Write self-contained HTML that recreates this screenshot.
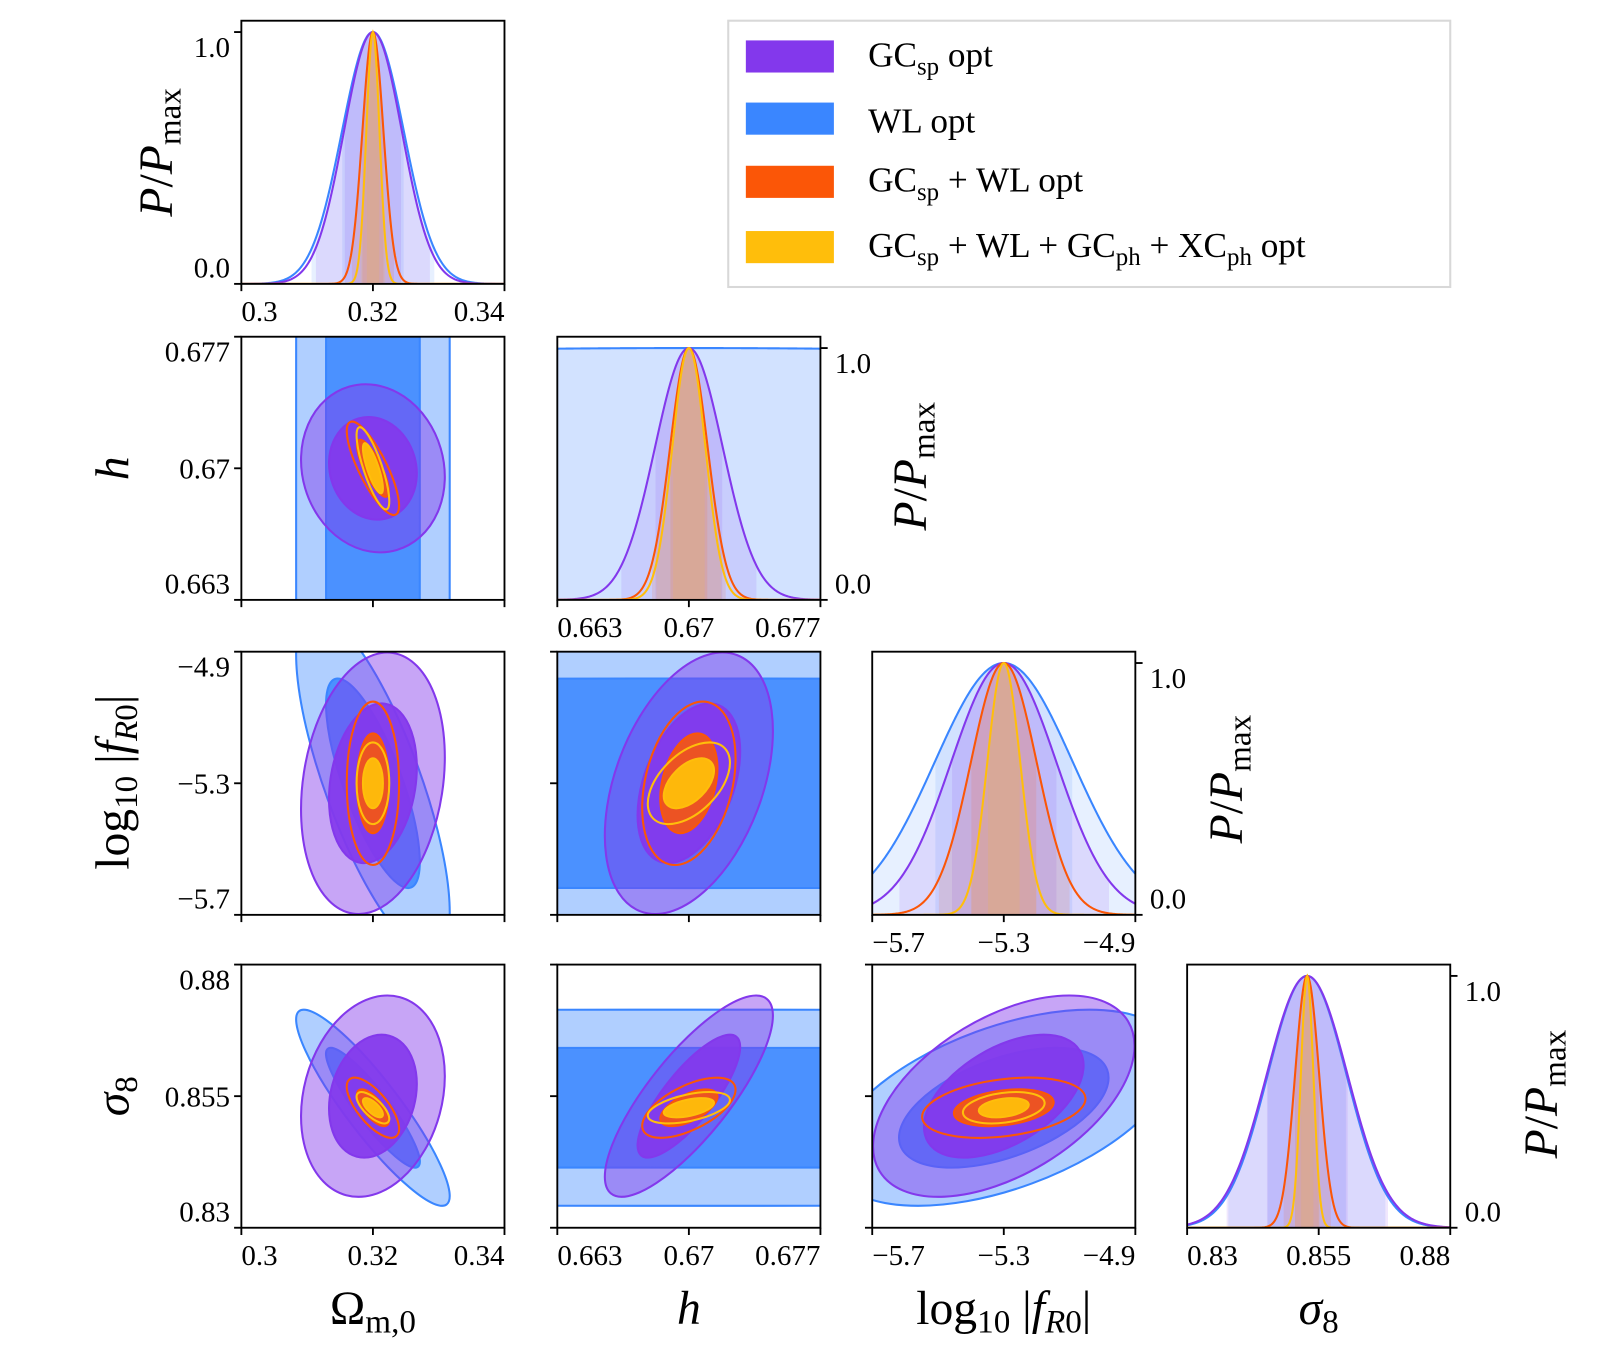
<!DOCTYPE html>
<html><head><meta charset="utf-8"><style>
html,body{margin:0;padding:0;background:#fff;overflow:hidden;width:1616px;height:1350px;}
svg{display:block;font-family:"Liberation Serif",serif;}
</style></head><body>
<svg id="fig" width="1616" height="1350" viewBox="0 0 1560 1303" preserveAspectRatio="none" xmlns="http://www.w3.org/2000/svg">
<defs id="defs"></defs>
<g id="marks"></g>
<g id="axes"></g>
<g font-size="46" fill="#000">
 <text transform="translate(150,147) rotate(-90)" text-anchor="middle" dy="0.35em"><tspan font-style="italic">P</tspan>/<tspan font-style="italic">P</tspan><tspan font-size="32" dy="8">max</tspan></text>
 <text transform="translate(108,452) rotate(-90)" text-anchor="middle" dy="0.35em" font-style="italic">h</text>
 <text transform="translate(108,755) rotate(-90)" text-anchor="middle" dy="0.35em">log<tspan font-size="32" dy="8">10</tspan><tspan dy="-8"> |</tspan><tspan font-style="italic">f</tspan><tspan font-size="32" dy="8" font-style="italic">R</tspan><tspan font-size="32">0</tspan><tspan dy="-8">|</tspan></text>
 <text transform="translate(108,1058) rotate(-90)" text-anchor="middle" dy="0.35em" font-style="italic">σ<tspan font-size="32" dy="8" font-style="normal">8</tspan></text>
 <text transform="translate(878,450) rotate(-90)" text-anchor="middle" dy="0.35em"><tspan font-style="italic">P</tspan>/<tspan font-style="italic">P</tspan><tspan font-size="32" dy="8">max</tspan></text>
 <text transform="translate(1183,752) rotate(-90)" text-anchor="middle" dy="0.35em"><tspan font-style="italic">P</tspan>/<tspan font-style="italic">P</tspan><tspan font-size="32" dy="8">max</tspan></text>
 <text transform="translate(1487,1056) rotate(-90)" text-anchor="middle" dy="0.35em"><tspan font-style="italic">P</tspan>/<tspan font-style="italic">P</tspan><tspan font-size="32" dy="8">max</tspan></text>
 <text x="360" y="1278" text-anchor="middle">Ω<tspan font-size="32" dy="8">m,0</tspan></text>
 <text x="665" y="1278" text-anchor="middle" font-style="italic">h</text>
 <text x="969" y="1278" text-anchor="middle">log<tspan font-size="32" dy="8">10</tspan><tspan dy="-8"> |</tspan><tspan font-style="italic">f</tspan><tspan font-size="32" dy="8" font-style="italic">R</tspan><tspan font-size="32">0</tspan><tspan dy="-8">|</tspan></text>
 <text x="1273" y="1278" text-anchor="middle" font-style="italic">σ<tspan font-size="32" dy="8" font-style="normal">8</tspan></text>
</g>
<g font-size="34">
 <rect x="703" y="20" width="697" height="257" fill="#fff" stroke="#d8d8d8" stroke-width="2"/>
 <g><rect x="720" y="39" width="85" height="31" fill="#8338ec"/><text x="838" y="64">GC<tspan font-size="24" dy="8">sp</tspan><tspan dy="-8"> opt</tspan></text></g>
 <g><rect x="720" y="99" width="85" height="31" fill="#3a86ff"/><text x="838" y="128">WL opt</text></g>
 <g><rect x="720" y="160" width="85" height="31" fill="#fb5607"/><text x="838" y="185">GC<tspan font-size="24" dy="8">sp</tspan><tspan dy="-8"> + WL opt</tspan></text></g>
 <g><rect x="720" y="223" width="85" height="31" fill="#ffbe0b"/><text x="838" y="248">GC<tspan font-size="24" dy="8">sp</tspan><tspan dy="-8"> + WL + GC</tspan><tspan font-size="24" dy="8">ph</tspan><tspan dy="-8"> + XC</tspan><tspan font-size="24" dy="8">ph</tspan><tspan dy="-8"> opt</tspan></text></g>
</g>
</svg>
<script>
// ---- data ----
const paramNames = ['Omega_m0', 'h', 'log10_fR0', 'sigma8'];
const means = [0.32, 0.67, -5.3, 0.8528];
const meansGC = [0.32, 0.67, -5.3, 0.855];
const sigmaGC = [0.0044, 0.0018, 0.16, 0.0077];
const sigmaWL = [0.0047, 0.1, 0.21, 0.0075];
const sigmaGCWL = [0.0016, 0.001, 0.1, 0.0023];
const sigmaAll = [0.001, 0.00088, 0.05, 0.0012];
// correlation pairs: [Om-h, Om-f, h-f, Om-s8, h-s8, f-s8]
const corrGC = [-0.1, 0.2, 0.4, 0.2, 0.8, 0.5];
const corrWL = [0, -0.75, 0, -0.9, 0, 0.5];
const corrGCWL = [-0.8, 0, 0.3, -0.7, 0.6, 0.3];
const corrAll = [-0.8, 0, 0.5, -0.7, 0.5, 0.3];
const axisLo = [0.30, 0.663, -5.7, 0.83];
const axisHi = [0.34, 0.677, -4.9, 0.88];
const tickLabels = [['0.3','0.32','0.34'],['0.663','0.67','0.677'],['−5.7','−5.3','−4.9'],['0.83','0.855','0.88']];
const pdfTickLabels = ['0.0','1.0'];

// ---- layout ----
const NS='http://www.w3.org/2000/svg';
const X0=[233,538,842,1146], Y0=[20,325,629,931], S=254, PMAX=1.045;
const marks=document.getElementById('marks'), axes=document.getElementById('axes'), defs=document.getElementById('defs');
function el(tag,attrs,parent){const e=document.createElementNS(NS,tag);for(const k in attrs)e.setAttribute(k,attrs[k]);parent.appendChild(e);return e;}
function sx(i,v,col){return X0[col]+(v-axisLo[i])/(axisHi[i]-axisLo[i])*S;}
function sy(j,v,row){return Y0[row]+S-(v-axisLo[j])/(axisHi[j]-axisLo[j])*S;}
function pairIndex(a,b){const m={'01':0,'02':1,'12':2,'03':3,'13':4,'23':5};return m[''+a+b];}

const series=[
 {name:'wl',mu:means,sig:sigmaWL,corr:corrWL,color:'#3a86ff',outerFill:0.4,innerFill:0.85},
 {name:'gcsp',mu:meansGC,sig:sigmaGC,corr:corrGC,color:'#8338ec',outerFill:0.45,innerFill:0.92},
 {name:'gcsp-wl',mu:means,sig:sigmaGCWL,corr:corrGCWL,color:'#fb5607',outerFill:0,innerFill:0.88},
 {name:'all',mu:means,sig:sigmaAll,corr:corrAll,color:'#ffbe0b',outerFill:0,innerFill:0.95}
];

function clipFor(col,row){
 const id='clip'+col+row;
 const cp=el('clipPath',{id:id},defs);
 el('rect',{x:X0[col],y:Y0[row],width:S,height:S},cp);
 return 'url(#'+id+')';
}

// 2D panels
for(let row=1;row<4;row++){
 for(let col=0;col<row;col++){
  const g=el('g',{'clip-path':clipFor(col,row)},marks);
  
  
  const k=pairIndex(col,row);
  const kx=S/(axisHi[col]-axisLo[col]), ky=S/(axisHi[row]-axisLo[row]);
  for(const s of series){
   const a=Math.pow(s.sig[col]*kx,2), b=Math.pow(s.sig[row]*ky,2);
   const c=-s.corr[k]*s.sig[col]*kx*s.sig[row]*ky;
   const th=0.5*Math.atan2(2*c,a-b);
   const d=Math.sqrt(Math.pow((a-b)/2,2)+c*c);
   const l1=(a+b)/2+d, l2=Math.max((a+b)/2-d,1e-6);
   const cx=sx(col,s.mu[col],col), cy=sy(row,s.mu[row],row);
   const levels=[[Math.sqrt(6.17),s.outerFill,'2sigma'],[Math.sqrt(2.30),s.innerFill,'1sigma']];
   for(const [f,alpha,lab] of levels){
    const e=el('ellipse',{cx:cx,cy:cy,rx:f*Math.sqrt(l1),ry:f*Math.sqrt(l2),
      transform:'rotate('+(th*180/Math.PI)+' '+cx+' '+cy+')',
      fill:alpha>0?s.color:'none','fill-opacity':alpha,stroke:s.color,'stroke-width':2},g);
    
    
   }
  }
 }
}

// 1D panels
for(let i=0;i<4;i++){
 const g=el('g',{'clip-path':clipFor(i,i)},marks);
 
 
 const base=Y0[i]+S;
 for(const s of series){
  const mu=means[i], sg=s.sig[i];
  const pts=[];
  for(let n=0;n<=300;n++){
   const v=axisLo[i]+(axisHi[i]-axisLo[i])*n/300;
   const p=Math.exp(-0.5*Math.pow((v-mu)/sg,2));
   pts.push([sx(i,v,i),base-p/PMAX*S,v]);
  }
  for(const nsig of [2,1]){
   const sub=pts.filter(q=>Math.abs(q[2]-mu)<=nsig*sg);
   if(sub.length<2)continue;
   let dstr='M'+sub[0][0]+','+base;
   for(const q of sub)dstr+=' L'+q[0]+','+q[1];
   dstr+=' L'+sub[sub.length-1][0]+','+base+' Z';
   const f=el('path',{d:dstr,fill:s.color,'fill-opacity':0.12,stroke:'none'},g);
   
   
  }
  const line=el('path',{d:'M'+pts.map(q=>q[0]+','+q[1]).join(' L'),fill:'none',stroke:s.color,'stroke-width':2},g);
  
  
 }
}

// axes frames, ticks, labels
function txt(x,y,t,anchor,name){
 const e=el('text',{x:x,y:y,'text-anchor':anchor,'font-size':28},axes);
 e.textContent=t;
 
 
}
for(let row=0;row<4;row++){
 for(let col=0;col<=row;col++){
  const x0=X0[col],y0=Y0[row];
  const fr=el('rect',{x:x0,y:y0,width:S,height:S,fill:'none',stroke:'#000','stroke-width':1.8},axes);
  
  
  const xt=[axisLo[col],(axisLo[col]+axisHi[col])/2,axisHi[col]];
  xt.forEach((v,n)=>{const X=sx(col,v,col);el('line',{x1:X,x2:X,y1:y0+S,y2:y0+S+7,stroke:'#000','stroke-width':1.8},axes);});
  if(row===col||row===3){
   const anch=['start','middle','end'];
   xt.forEach((v,n)=>txt(sx(col,v,col),y0+S+36,tickLabels[col][n],anch[n],'x-tick-label'));
  }
  if(row===col){
   const left=(col===0);
   const X=left?x0:x0+S;
   [0,1].forEach(p=>{const Y=y0+S-p/PMAX*S;el('line',{x1:X,x2:left?X-7:X+7,y1:Y,y2:Y,stroke:'#000','stroke-width':1.8},axes);});
   const tx=left?x0-11:x0+S+14, an=left?'end':'start';
   txt(tx,y0+S-6,pdfTickLabels[0],an,'pdf-tick-label');
   txt(tx,y0+S-S/PMAX+24,pdfTickLabels[1],an,'pdf-tick-label');
  } else {
   const yt=[axisLo[row],(axisLo[row]+axisHi[row])/2,axisHi[row]];
   yt.forEach(v=>{const Y=sy(row,v,row);el('line',{x1:x0,x2:x0-7,y1:Y,y2:Y,stroke:'#000','stroke-width':1.8},axes);});
   if(col===0){
    txt(x0-11,y0+S-6,tickLabels[row][0],'end','y-tick-label');
    txt(x0-11,y0+S/2+10,tickLabels[row][1],'end','y-tick-label');
    txt(x0-11,y0+24,tickLabels[row][2],'end','y-tick-label');
   }
  }
 }
}
</script>
</body></html>
